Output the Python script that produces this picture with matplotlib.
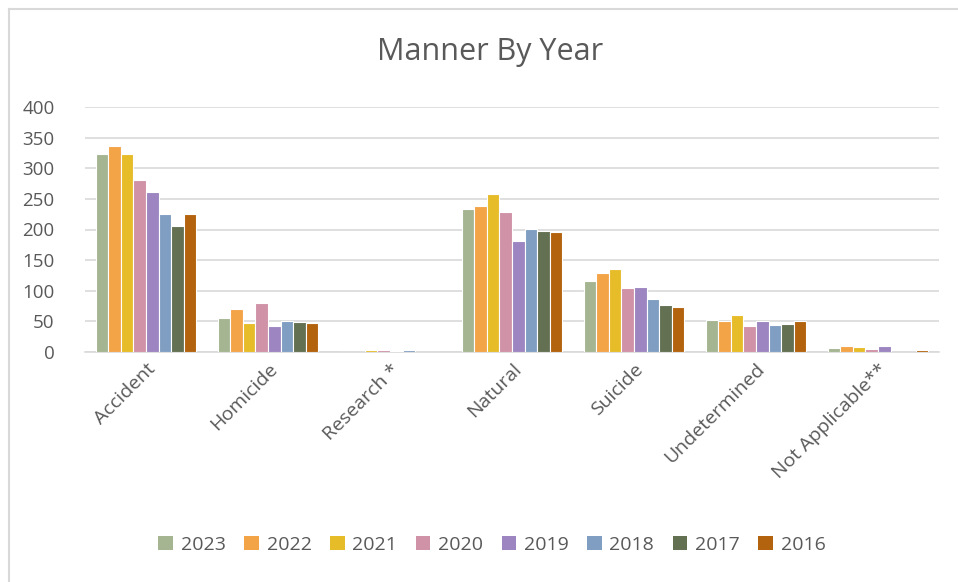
import matplotlib
matplotlib.use("Agg")
import matplotlib.pyplot as plt
import numpy as np
from matplotlib.lines import Line2D
from matplotlib.patches import Patch

categories = ["Accident", "Homicide", "Research *", "Natural", "Suicide", "Undetermined", "Not Applicable**"]
years = ["2023", "2022", "2021", "2020", "2019", "2018", "2017", "2016"]
v2023 = [323, 56, 0, 233, 116, 53, 7]
v2022 = [336, 70, 0, 238, 129, 50, 9]
v2021 = [323, 47, 3, 258, 135, 61, 8]
v2020 = [281, 80, 4, 229, 104, 43, 5]
v2019 = [261, 43, 2, 182, 106, 51, 10]
v2018 = [225, 50, 4, 201, 86, 44, 0]
v2017 = [205, 49, 0, 197, 77, 45, 0]
v2016 = [226, 47, 0, 196, 74, 50, 4]
series = [v2023, v2022, v2021, v2020, v2019, v2018, v2017, v2016]
colors = ["#A5B592", "#F3A447", "#E7BC29", "#D092A7", "#9C85C0", "#809EC2", "#637052", "#B3620D"]

plt.rcParams['font.family'] = ['Open Sans', 'DejaVu Sans']
txt = "#595959"

fig = plt.figure(figsize=(9.58, 5.82), dpi=100)
ax = fig.add_axes([85/958, 1-352/582, (939-85)/958, (352-107)/582])

x = np.arange(len(categories))
n = len(series)
total = 0.82
w = total / n
for i, (vals, c) in enumerate(zip(series, colors)):
    ax.bar(x - total/2 + w*(i+0.5), vals, width=w, color=c, edgecolor="white", linewidth=0.8, zorder=3, label=years[i])

ax.set_xlim(-0.5, len(categories)-0.5)
ax.set_ylim(0, 400)
ax.set_yticks(range(0, 401, 50))
ax.yaxis.grid(True, color="#D9D9D9", linewidth=1.2, zorder=0)
for s in ["top", "right", "left"]:
    ax.spines[s].set_visible(False)
ax.spines["bottom"].set_color("#D9D9D9")
ax.spines["bottom"].set_linewidth(1.2)
ax.tick_params(axis="both", length=0, colors=txt, labelsize=13.5)
ax.tick_params(axis="y", pad=22)
ax.set_xticks(x)
ax.set_xticklabels(categories, rotation=45, ha="right", rotation_mode="anchor", fontsize=14)
ax.tick_params(axis="x", pad=6)

fig.text(490/958, 1-52/582, "Manner By Year", ha="center", va="center", fontsize=22, color=txt)

handles = [Patch(facecolor=c, edgecolor="none") for c in colors]
fig.legend(handles, years, loc="center", bbox_to_anchor=(492/958, 1-545/582), ncol=8,
           frameon=False, fontsize=14, labelcolor=txt, handlelength=0.75, handleheight=0.75,
           handletextpad=0.4, columnspacing=0.95)

# chart frame (left and top edges visible)
fig.add_artist(Line2D([9/958, 9/958], [0, 1-9/582], transform=fig.transFigure, color="#D9D9D9", linewidth=1.5))
fig.add_artist(Line2D([9/958, 1], [1-9/582, 1-9/582], transform=fig.transFigure, color="#D9D9D9", linewidth=1.5))

fig.savefig("out.png", dpi=100, facecolor="white")
